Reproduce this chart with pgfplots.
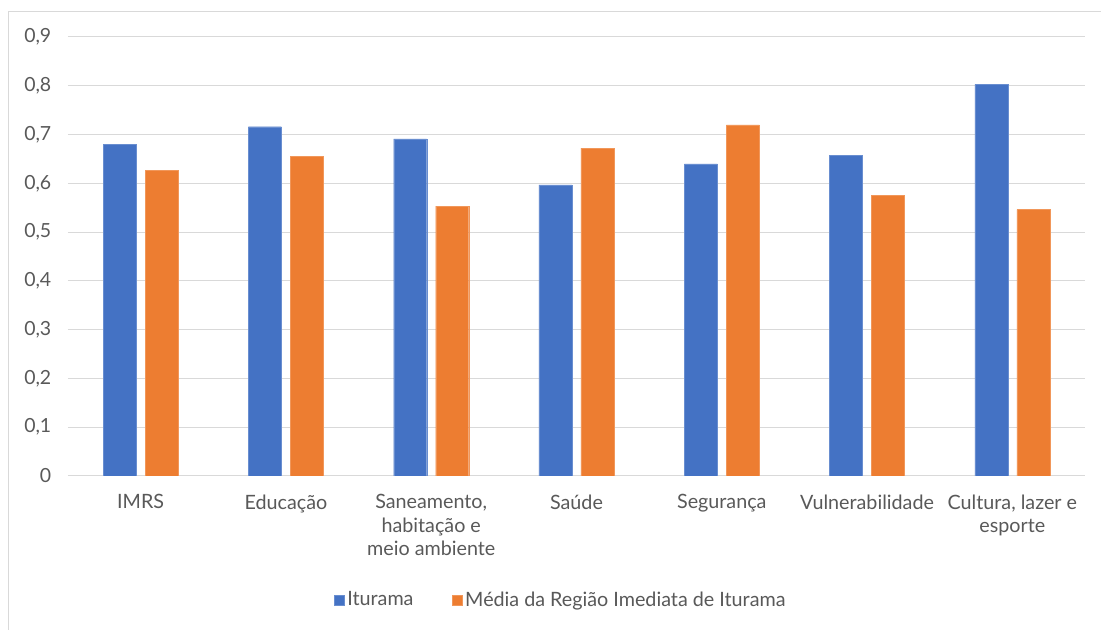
\documentclass[border=0pt]{standalone}
\usepackage{pgfplots}
\pgfplotsset{compat=1.18}
\usepackage{fontspec}
\setmainfont{Lato}
\definecolor{cblue}{HTML}{4472C4}
\definecolor{corange}{HTML}{ED7D31}
\definecolor{ctext}{HTML}{595959}
\definecolor{cgrid}{HTML}{D9D9D9}
\begin{document}
\begin{tikzpicture}[x=1pt,y=1pt]
\path[use as bounding box] (0,0) rectangle (825.75,472.5);
\draw[cgrid, line width=0.75pt] (6,0) -- (6,463.5) -- (825.75,463.5);
\begin{axis}[
  at={(51pt,115.5pt)}, anchor=south west,
  scale only axis, width=762.75pt, height=329.25pt,
  ybar=6.75pt, bar width=24.75pt,
  xmin=-0.5, xmax=6.5, ymin=0, ymax=0.9,
  xtick={0,1,2,3,4,5,6},
  xticklabels={IMRS, Educação, {Saneamento,\\habitação e\\meio ambiente}, Saúde, Segurança, Vulnerabilidade, {Cultura, lazer e\\esporte}},
  ytick={0,0.1,0.2,0.3,0.4,0.5,0.6,0.7,0.8,0.9},
  /pgf/number format/use comma, /pgf/number format/fixed, /pgf/number format/precision=1, /pgf/number format/assume math mode=true,
  yticklabel style={font=\fontsize{14.6}{17.3}\selectfont, text=ctext, anchor=east, xshift=-9pt},
  xticklabel style={font=\fontsize{14.8}{17.3}\selectfont, text=ctext, align=center, anchor=north, yshift=-10.5pt},
  major tick length=0pt,
  axis line style={draw=none},
  ymajorgrids, grid style={cgrid, line width=0.75pt},
  legend style={at={(0.485,-0.282)}, anchor=center, draw=none, legend columns=2,
    font=\fontsize{14.8}{17.3}\selectfont, text=ctext,
    /tikz/every even column/.append style={column sep=27pt}},
  legend image code/.code={\fill[#1] (0pt,-3.75pt) rectangle (7.5pt,3.75pt);},
]
\addplot[fill=cblue, draw=cblue!80!white, line width=0.3pt] coordinates {(0,0.680) (1,0.716) (2,0.691) (3,0.597) (4,0.640) (5,0.658) (6,0.803)};
\addplot[fill=corange, draw=corange!80!white, line width=0.3pt] coordinates {(0,0.626) (1,0.655) (2,0.553) (3,0.672) (4,0.720) (5,0.575) (6,0.546)};
\legend{Iturama, Média da Região Imediata de Iturama}
\end{axis}
\end{tikzpicture}
\end{document}
